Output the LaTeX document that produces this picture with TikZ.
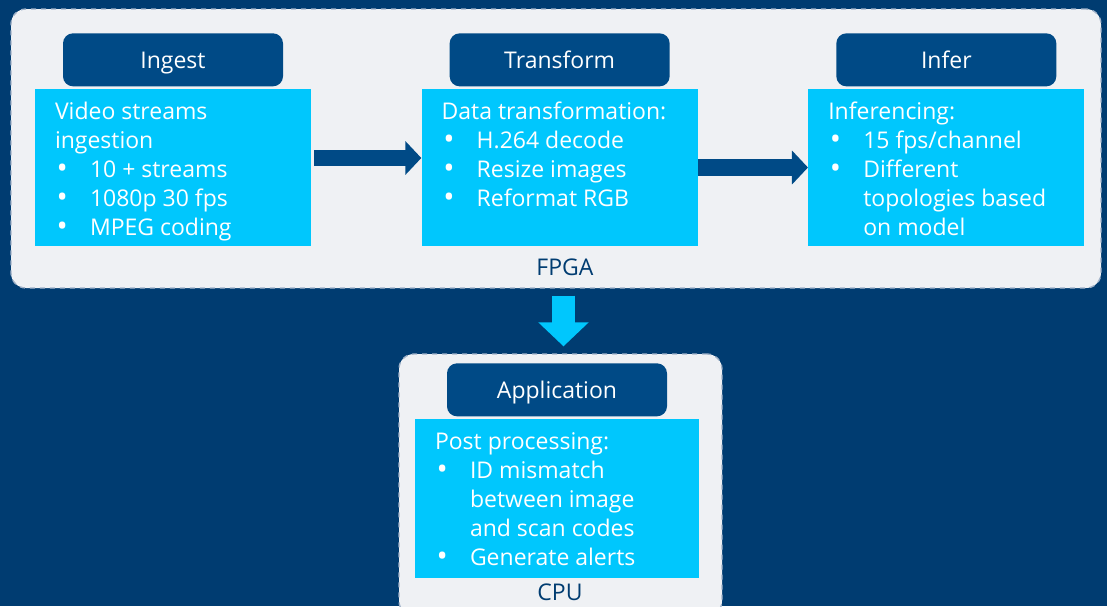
\documentclass[tikz,border=0pt]{standalone}
\usepackage{fontspec}
\setmainfont{Open Sans}
\usepackage{xcolor}
\usepackage{tikz}
\usetikzlibrary{positioning, arrows.meta}

\definecolor{bgblue}{RGB}{0,60,113}
\definecolor{navy}{RGB}{0,74,134}
\definecolor{sky}{RGB}{0,199,253}
\definecolor{panelgray}{RGB}{239,241,244}
\definecolor{dashgray}{RGB}{160,178,200}

\newcommand{\bul}{\makebox[21pt][l]{\hspace{1pt}\raisebox{-0.9pt}{\scalebox{1.3}{\textbullet}}}}
\newcommand{\cont}{\hspace*{21pt}}
\newcommand{\bodytext}[3]{\parbox[c][#2][t]{#1}{\raggedright\rule{0pt}{18pt}#3}}

\begin{document}
\begin{tikzpicture}[x=0.6pt, y=-0.6pt, node distance=66pt,
        font=\fontsize{13.8}{17.4}\selectfont,
        panel/.style={fill=panelgray, draw=dashgray, dashed, line width=0.8pt, rounded corners=9pt},
        head/.style={fill=navy, text=white, rounded corners=6pt, minimum width=132pt, minimum height=31.8pt, inner sep=0pt, text height=12pt, text depth=2pt},
        body/.style={fill=sky, text=white, inner xsep=12pt, inner ysep=0pt},
        flow/.style={navy, line width=10pt, -{Triangle[length=9.6pt, width=19.8pt]}}]
        \useasboundingbox (0,0) rectangle (1107,606);
        \clip (0,0) rectangle (1107,606);
        \fill[bgblue] (0,0) rectangle (1107,606);

        % FPGA
        \node[panel, minimum width=654pt, minimum height=167.4pt] (fpga) at (556,148.5) {};
        \node[body] (ingestbody) at (173,167.5) {\bodytext{141.6pt}{94.2pt}{Video streams\\ ingestion\\ \bul 10 + streams\\ \bul 1080p 30 fps\\ \bul MPEG coding}};
        \node[body, right=of ingestbody] (transformbody) {\bodytext{141.6pt}{94.2pt}{Data transformation:\\ \bul H.264 decode\\ \bul Resize images\\ \bul Reformat RGB}};
        \node[body, right=of transformbody] (inferbody) {\bodytext{141.6pt}{94.2pt}{Inferencing:\\ \bul 15 fps/channel\\ \bul Different\\ \cont topologies based\\ \cont on model}};
        \node[head, above=1.2pt of ingestbody] (ingest) {Ingest};
        \node[head, above=1.2pt of transformbody] (transform) {Transform};
        \node[head, above=1.2pt of inferbody] (infer) {Infer};
        \node[text=bgblue] (fpgalabel) at (565,267) {FPGA};

        % CPU
        \node[panel, minimum width=193.8pt, minimum height=157.2pt] (cpu) at (560.5,485) {};
        \node[body] (appbody) at (557,498.5) {\bodytext{146.4pt}{95.4pt}{Post processing:\\ \bul ID mismatch\\ \cont between image\\ \cont and scan codes\\ \bul Generate alerts}};
        \node[head, above=1.2pt of appbody] (app) {Application};
        \node[text=bgblue] (cpulabel) at (560,592) {CPU};

        \draw[flow, shorten <=1.8pt] ([yshift=5.7pt]ingestbody.east) -- ([yshift=5.7pt]transformbody.west);
        \draw[flow] (transformbody) -- (inferbody);
        \draw[sky, line width=13.8pt, -{Triangle[length=14.4pt, width=29.4pt]}, shorten <=4.2pt, shorten >=4.2pt]
            ([xshift=1.8pt]cpu.north |- fpga.south) -- ([xshift=1.8pt]cpu.north);
\end{tikzpicture}
\end{document}
